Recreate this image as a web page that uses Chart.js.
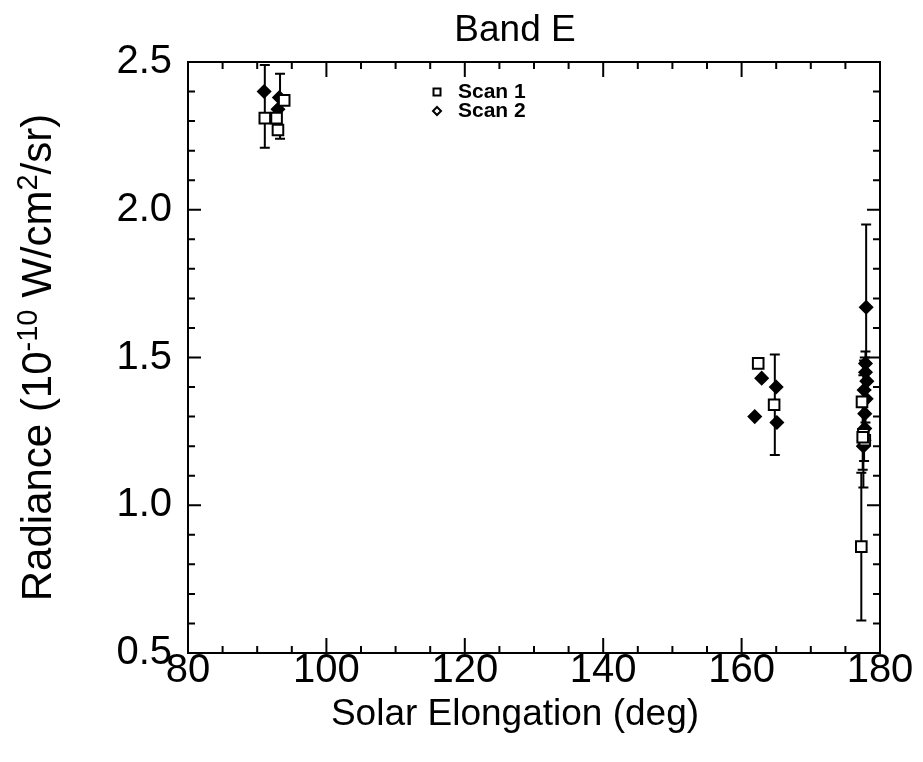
<!DOCTYPE html>
<html>
<head>
<meta charset="utf-8">
<script src="https://cdn.jsdelivr.net/npm/chart.js@4/dist/chart.umd.min.js"></script>
<style>
  html, body { margin: 0; padding: 0; background: #fff; }
  #wrap { width: 923px; height: 762px; }
</style>
</head>
<body>
<div id="wrap"><canvas id="c" width="923" height="762"></canvas></div>
<script>
// ---- data ----
const chartTitle = 'Band E';
const xTitle = 'Solar Elongation (deg)';
const seriesNames = ['Scan 1', 'Scan 2'];

const scan1X = [91.1, 93.0, 92.8, 93.9, 162.4, 164.7, 177.4, 177.6, 177.8, 177.5, 177.3];
const scan1Y = [2.31, 2.27, 2.31, 2.37, 1.48, 1.34, 1.35, 1.24, 1.22, 1.23, 0.86];

const scan2X = [91.0, 93.2, 93.0, 162.9, 165.0, 161.9, 165.1, 178.0, 177.9, 178.1, 178.0, 177.8, 177.7, 177.9, 177.8, 177.6, 177.7];
const scan2Y = [2.40, 2.38, 2.34, 1.43, 1.40, 1.30, 1.28, 1.67, 1.48, 1.42, 1.36, 1.26, 1.22, 1.45, 1.31, 1.20, 1.39];

// error bars: x, low, high
const errX  = [91.1, 93.3, 164.8, 178.0, 177.8, 177.6, 177.5, 177.7, 177.9, 177.3];
const errLo = [2.21, 2.24, 1.17, 1.39, 1.20, 1.06, 1.12, 1.15, 1.28, 0.61];
const errHi = [2.49, 2.46, 1.51, 1.95, 1.50, 1.44, 1.36, 1.49, 1.52, 1.11];

const xTickValues = [80, 100, 120, 140, 160, 180];
const yTickValues = [0.5, 1.0, 1.5, 2.0, 2.5];

// ---- chart ----
const FONT = '"Liberation Sans", Arial, sans-serif';

const toPts = (xs, ys) => xs.map((x, i) => ({ x: x, y: ys[i] }));

const errorBarPlugin = {
  id: 'errorBars',
  beforeDatasetsDraw(chart) {
    const { ctx, scales: { x, y } } = chart;
    ctx.save();
    ctx.strokeStyle = '#000';
    ctx.lineWidth = 2;
    for (let i = 0; i < errX.length; i++) {
      const px = x.getPixelForValue(errX[i]);
      const p1 = y.getPixelForValue(errLo[i]);
      const p2 = y.getPixelForValue(errHi[i]);
      ctx.beginPath();
      ctx.moveTo(px, p1); ctx.lineTo(px, p2);
      ctx.moveTo(px - 5, p1); ctx.lineTo(px + 5, p1);
      ctx.moveTo(px - 5, p2); ctx.lineTo(px + 5, p2);
      ctx.stroke();
    }
    ctx.restore();
  }
};

const framePlugin = {
  id: 'frame',
  afterDraw(chart) {
    const { ctx, chartArea: a, scales: { x, y } } = chart;
    ctx.save();
    ctx.strokeStyle = '#000';
    ctx.lineWidth = 2;
    ctx.strokeRect(a.left, a.top, a.right - a.left, a.bottom - a.top);
    ctx.beginPath();
    // x ticks (inward, bottom and top)
    for (let v = x.min; v <= x.max + 1e-9; v += 5) {
      const px = x.getPixelForValue(v);
      const major = Math.abs(v % 20) < 1e-6;
      const L = major ? 15 : 7;
      ctx.moveTo(px, a.bottom); ctx.lineTo(px, a.bottom - L);
      ctx.moveTo(px, a.top); ctx.lineTo(px, a.top + L);
    }
    // y ticks (inward, left and right)
    for (let k = 0; k <= 20; k++) {
      const v = y.min + k * 0.1;
      const py = y.getPixelForValue(v);
      const major = k % 5 === 0;
      const L = major ? 13 : 7;
      ctx.moveTo(a.left, py); ctx.lineTo(a.left + L, py);
      ctx.moveTo(a.right, py); ctx.lineTo(a.right - L, py);
    }
    ctx.stroke();

    // legend inside the plot
    const lx = 437, ly1 = 92, ly2 = 111;
    ctx.lineWidth = 2;
    ctx.strokeRect(lx - 3.5, ly1 - 3.5, 7, 7);
    ctx.beginPath();
    ctx.moveTo(lx, ly2 - 4); ctx.lineTo(lx + 4, ly2); ctx.lineTo(lx, ly2 + 4); ctx.lineTo(lx - 4, ly2); ctx.closePath();
    ctx.stroke();
    ctx.fillStyle = '#000';
    ctx.font = 'bold 21px ' + FONT;
    ctx.textAlign = 'left';
    ctx.textBaseline = 'middle';
    ctx.fillText(seriesNames[0], lx + 21, ly1);
    ctx.fillText(seriesNames[1], lx + 21, ly2);

    // chart title and x-axis title (centred on the figure as in the reference)
    ctx.textAlign = 'center';
    ctx.textBaseline = 'middle';
    ctx.font = '37px ' + FONT;
    ctx.fillText(chartTitle, 515, 31);
    ctx.fillText(xTitle, 515, 715);

    // y axis title with superscripts
    const parts = [
      ['Radiance (10', false], ['-10', true], [' W/cm', false], ['2', true], ['/sr)', false]
    ];
    const big = 42, small = 29;
    let total = 0;
    for (const [t, sup] of parts) {
      ctx.font = (sup ? small : big) + 'px ' + FONT;
      total += ctx.measureText(t).width;
    }
    ctx.translate(36, (a.top + a.bottom) / 2);
    ctx.rotate(-Math.PI / 2);
    ctx.textAlign = 'left';
    ctx.textBaseline = 'alphabetic';
    let cx = -total / 2;
    for (const [t, sup] of parts) {
      ctx.font = (sup ? small : big) + 'px ' + FONT;
      ctx.fillText(t, cx, sup ? 1 : 15);
      cx += ctx.measureText(t).width;
    }
    ctx.restore();
  }
};

new Chart(document.getElementById('c'), {
  type: 'scatter',
  data: {
    datasets: [
      {
        label: seriesNames[0],
        data: toPts(scan1X, scan1Y),
        pointStyle: 'rect',
        pointRadius: 7.5,
        borderColor: '#000',
        backgroundColor: '#fff',
        borderWidth: 2,
        pointHoverRadius: 7.5
      },
      {
        label: seriesNames[1],
        data: toPts(scan2X, scan2Y),
        pointStyle: 'rectRot',
        pointRadius: 6.5,
        borderColor: '#000',
        backgroundColor: '#000',
        borderWidth: 1.5,
        pointHoverRadius: 6.5
      }
    ]
  },
  options: {
    responsive: false,
    animation: false,
    events: [],
    layout: { padding: { left: 0, right: 43, top: 62, bottom: 0 } },
    plugins: {
      legend: { display: false },
      tooltip: { enabled: false },
      title: { display: false }
    },
    scales: {
      x: {
        type: 'linear',
        min: 80, max: 180,
        afterBuildTicks(s) { s.ticks = xTickValues.map(v => ({ value: v })); },
        afterFit(s) { s.height = 109; },
        grid: { display: false, drawTicks: false },
        border: { display: false },
        ticks: { color: '#000', font: { family: FONT, size: 40 }, padding: -6, maxRotation: 0 },
        title: { display: false }
      },
      y: {
        type: 'linear',
        min: 0.5, max: 2.5,
        afterBuildTicks(s) { s.ticks = yTickValues.map(v => ({ value: v })); },
        afterFit(s) { s.width = 188; },
        grid: { display: false, drawTicks: false },
        border: { display: false },
        ticks: {
          color: '#000', font: { family: FONT, size: 40 }, padding: 16,
          callback: v => Number(v).toFixed(1)
        }
      }
    }
  },
  plugins: [errorBarPlugin, framePlugin]
});
</script>
</body>
</html>
